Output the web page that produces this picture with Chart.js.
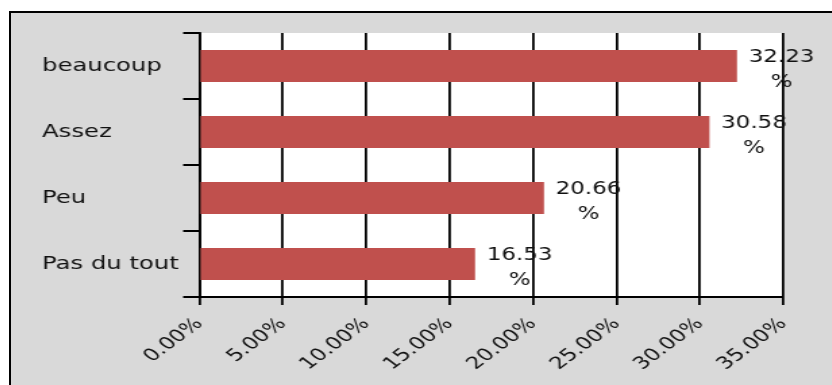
<!DOCTYPE html>
<html>
<head>
<meta charset="utf-8">
<script src="https://cdn.jsdelivr.net/npm/chart.js@4/dist/chart.umd.min.js"></script>
<style>
  html, body { margin: 0; padding: 0; background: #ffffff; overflow: hidden; }
  #frame { position: absolute; left: 9px; top: 11px; width: 900px; height: 500px;
           border: 2px solid #000; background: #d9d9d9; overflow: hidden; }
  #wrap { position: absolute; left: 0; top: 0; width: 608px; height: 372px;
          transform: scaleX(1.35); transform-origin: 0 0; }
</style>
</head>
<body>
<div id="frame"><div id="wrap"><canvas id="c"></canvas></div></div>
<script>
const categories = ['beaucoup', 'Assez', 'Peu', 'Pas du tout'];
const values = [32.23, 30.58, 20.66, 16.53];
const valueLabels = [['32.23', '%'], ['30.58', '%'], ['20.66', '%'], ['16.53', '%']];
const axisMin = 0, axisMax = 35, axisStep = 5;

const FONT = '"DejaVu Sans", Verdana, sans-serif';
const TEXT = '#111111';

const plotBg = {
  id: 'plotBg',
  beforeDraw(chart) {
    const { ctx, chartArea: a } = chart;
    ctx.save();
    ctx.fillStyle = '#ffffff';
    ctx.fillRect(a.left, a.top, a.right - a.left, a.bottom - a.top);
    ctx.restore();
  }
};

const valueLabelsPlugin = {
  id: 'valueLabels',
  afterDatasetsDraw(chart) {
    const { ctx } = chart;
    const meta = chart.getDatasetMeta(0);
    ctx.save();
    ctx.font = '17px ' + FONT;
    ctx.fillStyle = TEXT;
    ctx.textAlign = 'center';
    ctx.textBaseline = 'alphabetic';
    meta.data.forEach((bar, i) => {
      const x = bar.x + 33;
      const y = bar.y;
      ctx.fillText(valueLabels[i][0], x, y - 4);
      ctx.fillText(valueLabels[i][1], x, y + 21);
    });
    ctx.restore();
  }
};

new Chart(document.getElementById('c'), {
  type: 'bar',
  data: {
    labels: categories,
    datasets: [{
      data: values,
      backgroundColor: '#c0504d',
      borderWidth: 0,
      categoryPercentage: 1,
      barPercentage: 0.485
    }]
  },
  options: {
    indexAxis: 'y',
    responsive: true,
    maintainAspectRatio: false,
    animation: false,
    layout: { padding: { left: 23, top: 20, right: 36, bottom: 0 } },
    plugins: { legend: { display: false }, tooltip: { enabled: false } },
    scales: {
      x: {
        min: axisMin, max: axisMax,
        afterFit(scale) { scale.height = 88; },
        grid: { color: '#000', lineWidth: 1.8, tickLength: 8, drawOnChartArea: true },
        border: { color: '#000', width: 2 },
        ticks: {
          stepSize: axisStep,
          minRotation: 45, maxRotation: 45,
          color: TEXT,
          font: { family: FONT, size: 17 },
          padding: 9,
          callback: v => v.toFixed(2) + '%'
        }
      },
      y: {
        afterFit(scale) { scale.width = 116.5; },
        grid: { offset: true, drawOnChartArea: false, color: '#000', lineWidth: 2, tickLength: 12 },
        border: { color: '#000', width: 1.8 },
        ticks: {
          crossAlign: 'far',
          color: TEXT,
          font: { family: FONT, size: 18 }
        }
      }
    }
  },
  plugins: [plotBg, valueLabelsPlugin]
});
</script>
</body>
</html>
